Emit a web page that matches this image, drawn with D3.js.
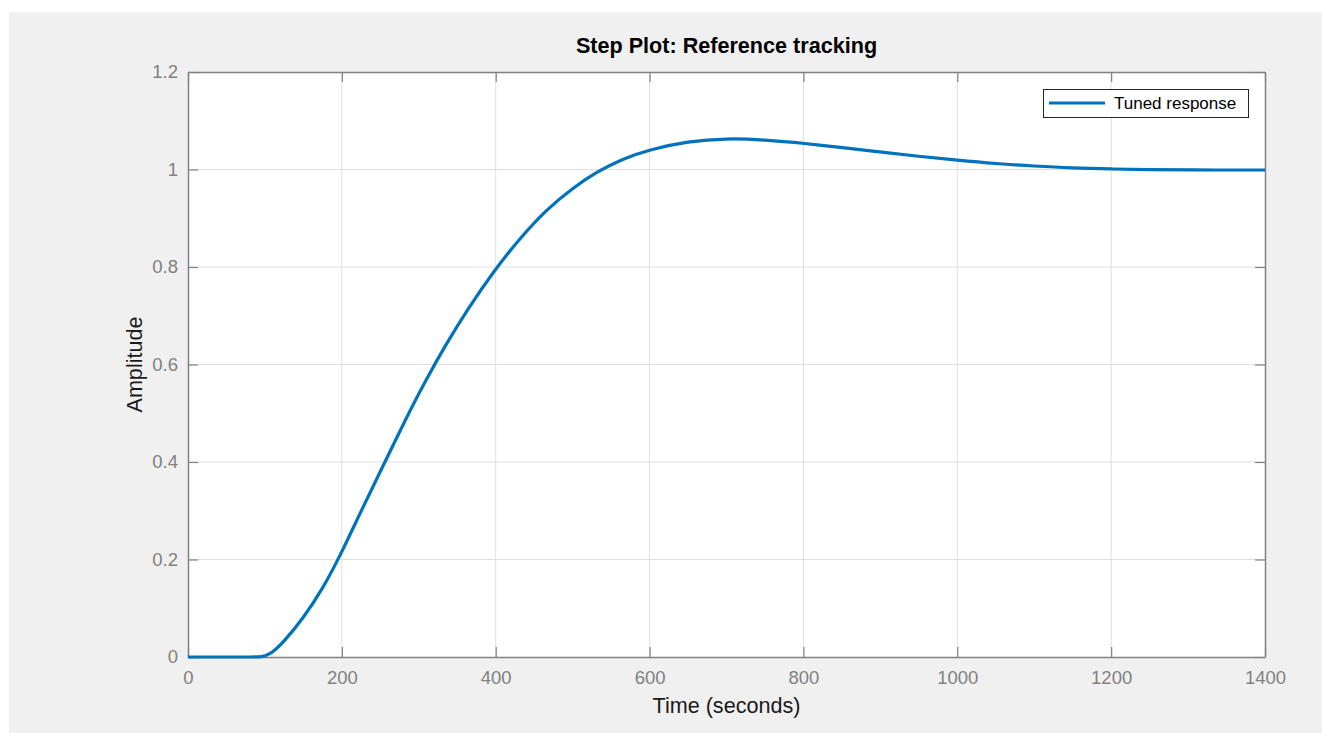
<!DOCTYPE html>
<html>
<head>
<meta charset="utf-8">
<script src="https://cdn.jsdelivr.net/npm/d3@7"></script>
<style>
  body { margin: 0; background: #ffffff; }
  svg { display: block; font-family: "Liberation Sans", Arial, sans-serif; }
</style>
</head>
<body>
<div id="canvas"></div>
<script>
"use strict"

// step response (time in s, amplitude)
let timeValues = [0, 45, 85, 95, 107, 124, 150, 175, 197, 226, 256, 282, 308, 336, 362, 398, 432, 466, 500, 531, 565, 600, 650, 700, 750, 800, 860, 900, 950, 1000, 1050, 1100, 1150, 1200, 1250, 1300, 1400];
let amplitudeValues = [0, 0, 0, 0, 0.005, 0.03, 0.08, 0.14, 0.205, 0.303, 0.4, 0.485, 0.565, 0.643, 0.71, 0.793, 0.86, 0.918, 0.962, 0.995, 1.022, 1.041, 1.058, 1.064, 1.061, 1.054, 1.043, 1.036, 1.027, 1.019, 1.012, 1.007, 1.003, 1.001, 0.9995, 0.999, 0.999];
let xTicks = [0, 200, 400, 600, 800, 1000, 1200, 1400];
let yTicks = [0, 0.2, 0.4, 0.6, 0.8, 1, 1.2];
let seriesName = "Tuned response";

let W = 1322, H = 733;

let drawing = d3.select("#canvas")
    .append("svg")
    .attr("width", W)
    .attr("height", H);

// grey figure background
drawing.append("rect")
    .attr("x", 9)
    .attr("y", 12)
    .attr("width", W - 9)
    .attr("height", H - 12)
    .attr("fill", "#f0f0f0");

let plotLeft = 188, plotRight = 1265, plotTop = 72, plotBottom = 657;

let x = d3.scaleLinear().domain([0, 1400]).range([plotLeft, plotRight]);
let y = d3.scaleLinear().domain([0, 1.2]).range([plotBottom, plotTop]);

// white axes area
drawing.append("rect")
    .attr("x", plotLeft)
    .attr("y", plotTop)
    .attr("width", plotRight - plotLeft)
    .attr("height", plotBottom - plotTop)
    .attr("fill", "#ffffff");

// grid lines
drawing.append("g")
    .selectAll("line")
    .data(xTicks.slice(1, -1))
    .join("line")
    .attr("x1", d => x(d)).attr("x2", d => x(d))
    .attr("y1", plotTop).attr("y2", plotBottom)
    .attr("stroke", "#dfdfdf")
    .attr("stroke-width", 1);

drawing.append("g")
    .selectAll("line")
    .data(yTicks.slice(1, -1))
    .join("line")
    .attr("y1", d => y(d)).attr("y2", d => y(d))
    .attr("x1", plotLeft).attr("x2", plotRight)
    .attr("stroke", "#dfdfdf")
    .attr("stroke-width", 1);

let axisColor = "#818181";
let tickFont = "18.5px";
let plainNumber = d => String(d);

// axes: ticks point inward like MATLAB
let xAxis = drawing.append("g")
    .attr("transform", `translate(0,${plotBottom})`)
    .call(d3.axisBottom(x).tickValues(xTicks).tickFormat(plainNumber).tickSizeInner(-10).tickSizeOuter(0).tickPadding(14));
let xAxisTop = drawing.append("g")
    .attr("transform", `translate(0,${plotTop})`)
    .call(d3.axisTop(x).tickValues(xTicks).tickSizeInner(-10).tickSizeOuter(0).tickFormat(""));
let yAxis = drawing.append("g")
    .attr("transform", `translate(${plotLeft},0)`)
    .call(d3.axisLeft(y).tickValues(yTicks).tickFormat(plainNumber).tickSizeInner(-10).tickSizeOuter(0).tickPadding(10));
let yAxisRight = drawing.append("g")
    .attr("transform", `translate(${plotRight},0)`)
    .call(d3.axisRight(y).tickValues(yTicks).tickSizeInner(-10).tickSizeOuter(0).tickFormat(""));

[xAxis, xAxisTop, yAxis, yAxisRight].forEach(g => {
    g.select(".domain").attr("stroke", axisColor).attr("stroke-width", 1.5);
    g.selectAll(".tick line").attr("stroke", axisColor).attr("stroke-width", 1.2);
    g.selectAll(".tick text")
        .attr("fill", "#808080")
        .style("font-size", tickFont)
        .style("font-family", "'Liberation Sans', Arial, sans-serif");
});

// response line (basis spline to keep it smooth between read points)
let line = d3.line()
    .x((d, i) => x(timeValues[i]))
    .y(d => y(d))
    .curve(d3.curveBasis);

drawing.append("path")
    .datum(amplitudeValues)
    .attr("d", line)
    .attr("fill", "none")
    .attr("stroke", "#0072bd")
    .attr("stroke-width", 3.2)
    .attr("stroke-linejoin", "round");

// title and axis labels
drawing.append("text")
    .attr("x", (plotLeft + plotRight) / 2)
    .attr("y", 53)
    .attr("text-anchor", "middle")
    .attr("font-size", "21.6px")
    .attr("font-weight", "bold")
    .attr("fill", "#000000")
    .text("Step Plot: Reference tracking");

drawing.append("text")
    .attr("x", (plotLeft + plotRight) / 2)
    .attr("y", 713)
    .attr("text-anchor", "middle")
    .attr("font-size", "21.6px")
    .attr("fill", "#1a1a1a")
    .text("Time (seconds)");

drawing.append("text")
    .attr("transform", `translate(142,${(plotTop + plotBottom) / 2}) rotate(-90)`)
    .attr("text-anchor", "middle")
    .attr("font-size", "21.6px")
    .attr("fill", "#1a1a1a")
    .text("Amplitude");

// legend
let legend = drawing.append("g");
legend.append("rect")
    .attr("x", 1043.5)
    .attr("y", 89.5)
    .attr("width", 205)
    .attr("height", 28)
    .attr("fill", "#ffffff")
    .attr("stroke", "#262626")
    .attr("stroke-width", 1);
legend.append("line")
    .attr("x1", 1049).attr("x2", 1105)
    .attr("y1", 103).attr("y2", 103)
    .attr("stroke", "#0072bd")
    .attr("stroke-width", 3.2);
legend.append("text")
    .attr("x", 1114)
    .attr("y", 109)
    .attr("font-size", "17px")
    .attr("fill", "#000000")
    .text(seriesName);
</script>
</body>
</html>
